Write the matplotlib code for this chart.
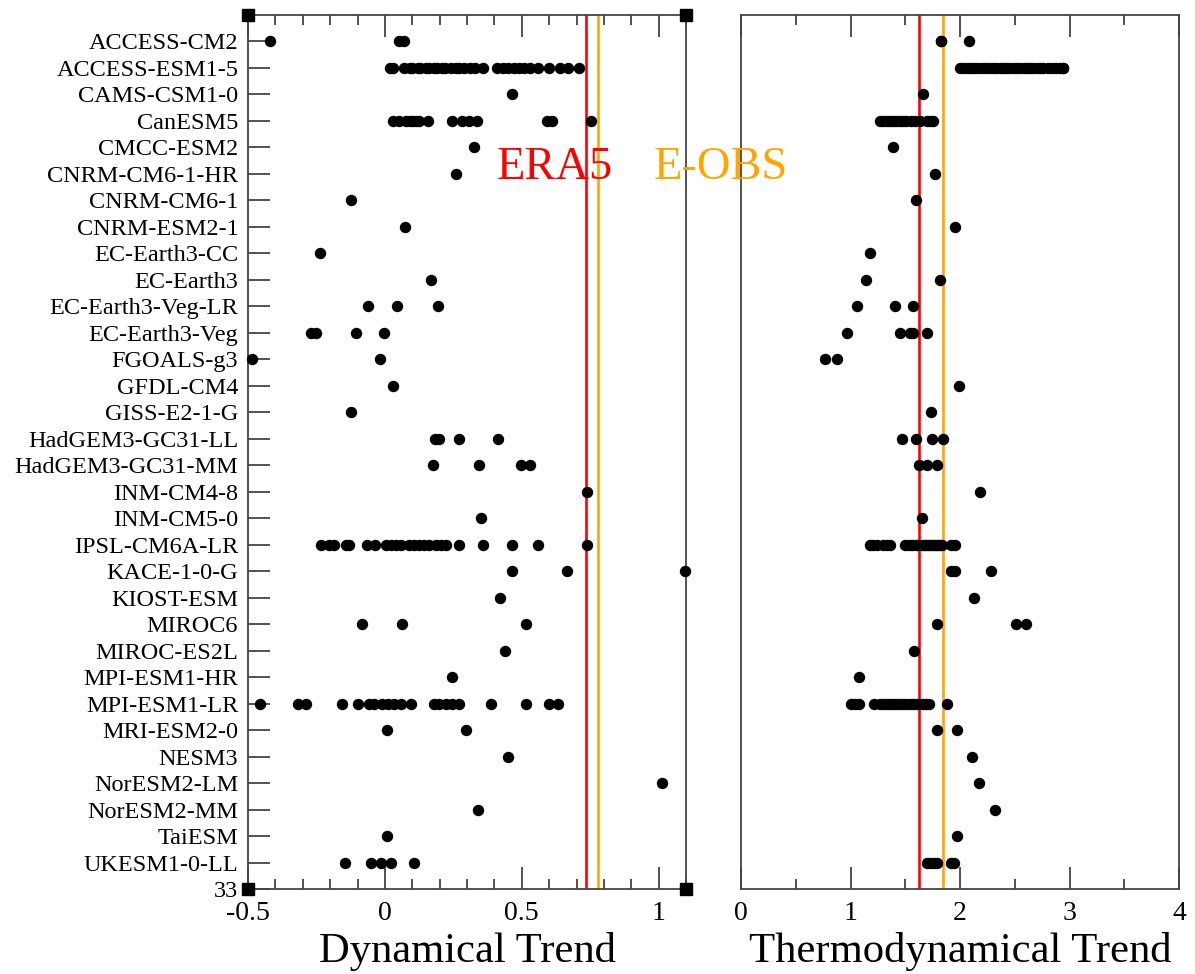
import numpy as np
import matplotlib
matplotlib.use("Agg")
import matplotlib.pyplot as plt
from matplotlib.ticker import MultipleLocator

plt.rcParams['font.family'] = ['Liberation Serif', 'DejaVu Serif']

# ---- data ----
models = ["ACCESS-CM2", "ACCESS-ESM1-5", "CAMS-CSM1-0", "CanESM5", "CMCC-ESM2",
          "CNRM-CM6-1-HR", "CNRM-CM6-1", "CNRM-ESM2-1", "EC-Earth3-CC", "EC-Earth3",
          "EC-Earth3-Veg-LR", "EC-Earth3-Veg", "FGOALS-g3", "GFDL-CM4", "GISS-E2-1-G",
          "HadGEM3-GC31-LL", "HadGEM3-GC31-MM", "INM-CM4-8", "INM-CM5-0", "IPSL-CM6A-LR",
          "KACE-1-0-G", "KIOST-ESM", "MIROC6", "MIROC-ES2L", "MPI-ESM1-HR",
          "MPI-ESM1-LR", "MRI-ESM2-0", "NESM3", "NorESM2-LM", "NorESM2-MM",
          "TaiESM", "UKESM1-0-LL"]

dyn_trend = [
    [-0.42, 0.05, 0.07],
    [0.02, 0.03, 0.07, 0.09, 0.10, 0.12, 0.13, 0.15, 0.16, 0.18, 0.19, 0.21, 0.22, 0.24,
     0.26, 0.27, 0.29, 0.31, 0.33, 0.36, 0.41, 0.43, 0.45, 0.47, 0.49, 0.51, 0.53, 0.56,
     0.60, 0.64, 0.67, 0.71],
    [0.466],
    [0.029, 0.053, 0.077, 0.09, 0.101, 0.115, 0.126, 0.156, 0.247, 0.283, 0.307, 0.338,
     0.594, 0.612, 0.752],
    [0.326],
    [0.261],
    [-0.122],
    [0.074],
    [-0.237],
    [0.168],
    [-0.061, 0.044, 0.193],
    [-0.270, -0.250, -0.104, -0.004],
    [-0.485, -0.017],
    [0.030],
    [-0.125],
    [0.184, 0.198, 0.27, 0.415],
    [0.174, 0.344, 0.496, 0.529],
    [0.737],
    [0.350],
    [-0.234, -0.203, -0.185, -0.143, -0.131, -0.067, -0.036, 0.003, 0.021, 0.040, 0.058,
     0.088, 0.107, 0.126, 0.143, 0.162, 0.186, 0.204, 0.223, 0.271, 0.36, 0.466, 0.56,
     0.737],
    [0.463, 0.667, 1.098],
    [0.421],
    [-0.085, 0.064, 0.517],
    [0.438],
    [0.247],
    [-0.456, -0.319, -0.288, -0.158, -0.10, -0.057, -0.039, -0.009, 0.01, 0.034, 0.058,
     0.095, 0.180, 0.198, 0.223, 0.247, 0.271, 0.387, 0.515, 0.60, 0.633],
    [0.007, 0.296],
    [0.448],
    [1.011],
    [0.339],
    [0.007],
    [-0.145, -0.052, -0.015, 0.024, 0.107],
]

thermo_trend = [
    [1.824, 1.83, 2.085],
    [2.00, 2.03, 2.06, 2.09, 2.12, 2.15, 2.18, 2.22, 2.25, 2.28, 2.31, 2.34, 2.37, 2.40,
     2.43, 2.46, 2.49, 2.52, 2.55, 2.58, 2.61, 2.64, 2.67, 2.70, 2.73, 2.76, 2.80, 2.84,
     2.88, 2.91, 2.94, 2.944],
    [1.659],
    [1.27, 1.30, 1.33, 1.36, 1.39, 1.42, 1.45, 1.48, 1.51, 1.55, 1.59, 1.635, 1.70, 1.726,
     1.757],
    [1.385],
    [1.769],
    [1.595],
    [1.954],
    [1.181],
    [1.142, 1.817],
    [1.056, 1.406, 1.568],
    [0.965, 1.452, 1.543, 1.568, 1.696],
    [0.767, 0.874],
    [1.988],
    [1.735],
    [1.473, 1.595, 1.748, 1.848],
    [1.623, 1.696, 1.793],
    [2.183],
    [1.656],
    [1.18, 1.21, 1.24, 1.30, 1.33, 1.36, 1.50, 1.53, 1.56, 1.60, 1.62, 1.64, 1.66, 1.68,
     1.70, 1.72, 1.74, 1.76, 1.78, 1.80, 1.82, 1.84, 1.92, 1.95],
    [1.915, 1.954, 2.283],
    [2.125],
    [1.787, 2.508, 2.603],
    [1.577],
    [1.081],
    [1.00, 1.04, 1.08, 1.215, 1.27, 1.30, 1.33, 1.36, 1.39, 1.42, 1.45, 1.48, 1.51, 1.54,
     1.57, 1.60, 1.63, 1.66, 1.69, 1.72, 1.878],
    [1.793, 1.97],
    [2.107],
    [2.177],
    [2.32],
    [1.97],
    [1.70, 1.73, 1.76, 1.79, 1.915, 1.945],
]

era5_dyn, eobs_dyn = 0.733, 0.78
era5_thermo, eobs_thermo = 1.623, 1.842

# ---- figure ----
W, H = 1195, 974
fig = plt.figure(figsize=(W / 100, H / 100), dpi=100)
ax1 = fig.add_axes([248 / W, 85 / H, 438 / W, 874.3 / H])
ax2 = fig.add_axes([741 / W, 85 / H, 438 / W, 874.3 / H])
ax1.set_zorder(3)  # so the E-OBS label is not hidden under the right panel

spine_col = '#444444'
for ax in (ax1, ax2):
    for s in ax.spines.values():
        s.set_color(spine_col)
        s.set_linewidth(1.3)
    ax.set_ylim(33, 0)

# dots
for i, (d, t) in enumerate(zip(dyn_trend, thermo_trend)):
    ax1.plot(d, [i + 1] * len(d), 'o', color='black', markersize=7.2, clip_on=False,
             zorder=3)
    ax2.plot(t, [i + 1] * len(t), 'o', color='black', markersize=7.2, clip_on=False,
             zorder=3)

# reference lines
ax1.axvline(era5_dyn, color='#ff0000', lw=1.9, zorder=2)
ax1.axvline(eobs_dyn, color='#ffa500', lw=1.9, zorder=2)
ax2.axvline(era5_thermo, color='#ff0000', lw=1.9, zorder=2)
ax2.axvline(eobs_thermo, color='#ffa500', lw=1.9, zorder=2)

ax1.text(0.41, 6.2, "ERA5", color='#ff0000', fontsize=33.5, va='baseline', ha='left',
         clip_on=False)
ax1.text(0.983, 6.2, "E-OBS", color='#ffa500', fontsize=33.5, va='baseline', ha='left',
         clip_on=False)

# corner squares on left panel
ax1.plot([-0.5, 1.1, -0.5, 1.1], [0, 0, 33, 33], 's', color='black', markersize=8.5,
         clip_on=False, zorder=4)

# left axes
ax1.set_xlim(-0.5, 1.1)
ax1.set_xticks([-0.5, 0, 0.5, 1])
ax1.set_xticklabels(['-0.5', '0', '0.5', '1'])
ax1.xaxis.set_minor_locator(MultipleLocator(0.1))
ax1.set_yticks(range(1, 34))
ax1.set_yticklabels(models + ['33'])
ax1.tick_params(axis='y', which='major', direction='in', length=16, width=1.3,
                color=spine_col, labelsize=17.5, pad=7, left=True, right=False)
ax1.tick_params(axis='x', which='major', direction='in', length=15.5, width=1.3,
                color=spine_col, labelsize=20, pad=9, top=True, bottom=True)
ax1.tick_params(axis='x', which='minor', direction='in', length=7.5, width=1.3,
                color=spine_col, top=True, bottom=True)
ax1.set_xlabel("Dynamical Trend", fontsize=30.7, labelpad=4)

# right axes
ax2.set_xlim(0, 4)
ax2.set_xticks([0, 1, 2, 3, 4])
ax2.set_xticklabels(['0', '1', '2', '3', '4'])
ax2.xaxis.set_minor_locator(MultipleLocator(0.5))
ax2.set_yticks([])
ax2.tick_params(axis='x', which='major', direction='in', length=15.5, width=1.3,
                color=spine_col, labelsize=20, pad=9, top=True, bottom=True)
ax2.tick_params(axis='x', which='minor', direction='in', length=7.5, width=1.3,
                color=spine_col, top=True, bottom=True)
ax2.set_xlabel("Thermodynamical Trend", fontsize=30.7, labelpad=4)

fig.savefig("out.png", dpi=100)
